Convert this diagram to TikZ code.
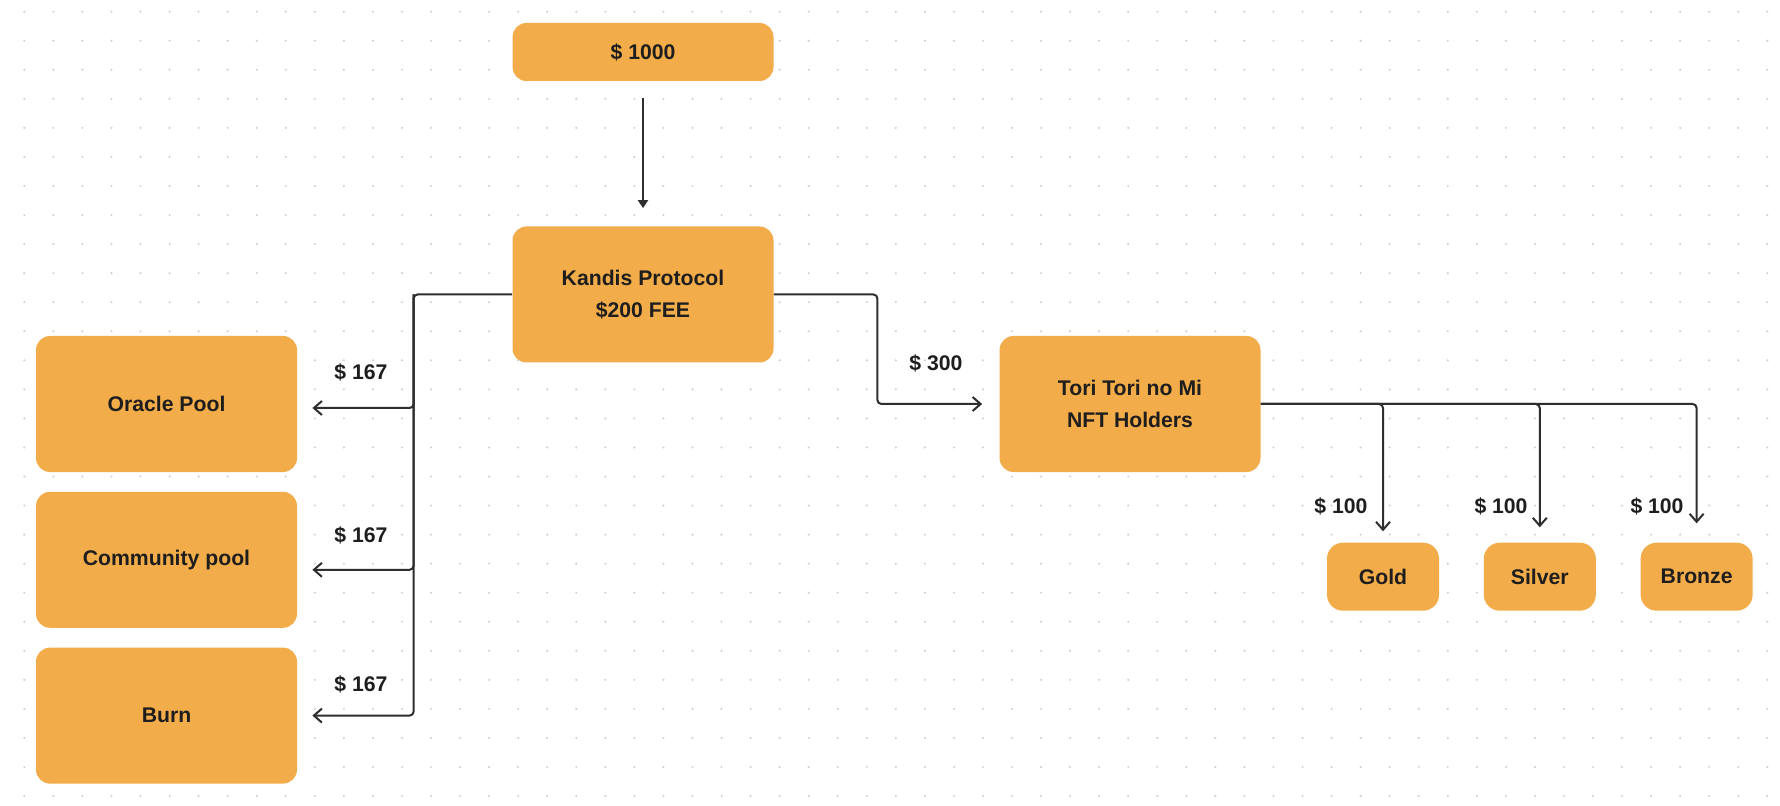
\documentclass[tikz,border=0pt]{standalone}
\usepackage{fontspec}
\setmainfont{Liberation Sans}
\usetikzlibrary{arrows.meta,positioning}
\definecolor{boxfill}{HTML}{F2AC4A}
\definecolor{ink}{HTML}{1E1E1E}
\definecolor{wire}{HTML}{2E2E2E}
\definecolor{griddot}{HTML}{D2D2D2}

\begin{document}
\begin{tikzpicture}[x=0.5pt, y=-0.5pt, node distance=9.5pt,
    font=\fontsize{10.6}{16}\selectfont\bfseries]
  \tikzstyle{card}=[fill=boxfill, rounded corners=7pt, align=center, inner sep=0pt, minimum width=130.5pt, minimum height=68pt, text=ink]
  \tikzstyle{chip}=[card, rounded corners=8pt, minimum width=56pt, minimum height=34pt]
  \tikzstyle{link}=[draw=wire, line width=1pt, rounded corners=2pt, -{Straight Barb[length=4pt,width=7pt]}]
  \tikzstyle{amount}=[inner sep=0pt, text=ink]

  \useasboundingbox[fill=white] (0,0) rectangle (1780,806);
  % dotted canvas
  \foreach \i in {0,...,60}
    \foreach \j in {0,...,27}
      \fill[griddot] (24.3+29.05*\i, 11.7+29.05*\j) circle (0.6pt);

  % boxes
  \node[card, minimum height=29pt] (deposit) at (643,52) {\$ 1000};
  \node[card] (kandis) at (643,294.5) {Kandis Protocol\\\$200 FEE};
  \node[card] (oracle) at (166.5,404) {Oracle Pool};
  \node[card, below=of oracle] (community) {Community pool};
  \node[card, below=of community] (burn) {Burn};
  \node[card] (tori) at (1130,404) {Tori Tori no Mi\\NFT Holders};
  \node[chip] (gold) at (1383,576.7) {Gold};
  \node[chip, right=22pt of gold] (silver) {Silver};
  \node[chip, right=22pt of silver] (bronze) {Bronze};

  \coordinate (split) at ([xshift=-49.25pt]kandis.west);
  \coordinate (hop) at ([xshift=51.75pt]kandis.east);

  % connectors
  \draw[draw=wire, line width=1pt, -{Triangle[length=4pt,width=5pt]}, shorten <=8.5pt, shorten >=9pt] (deposit.south) -- (kandis.north);
  \draw[link, shorten >=7.5pt] (kandis.west) -- (split) |- (burn.east);
  \draw[link, shorten >=7.5pt] (split) |- ([yshift=-2pt]oracle.east);
  \draw[link, shorten >=7.5pt] (split) |- ([yshift=-5pt]community.east);
  \draw[link, shorten >=8.5pt] (kandis.east) -- (hop) |- (tori.west);
  \foreach \tier/\gap in {gold/5.5pt, silver/7.5pt, bronze/9.5pt}
    \draw[link, shorten >=\gap] (tori.east) -| (\tier.north);

  % amounts
  \node[amount] (lbl-oracle) at (361,372) {\$ 167};
  \node[amount] (lbl-community) at (361,535) {\$ 167};
  \node[amount] (lbl-burn) at (361,684) {\$ 167};
  \node[amount] (lbl-tori) at (936,363) {\$ 300};
  \node[amount] (lbl-gold) at (1341,506) {\$ 100};
  \node[amount] (lbl-silver) at (1501,506) {\$ 100};
  \node[amount] (lbl-bronze) at (1657,506) {\$ 100};
\end{tikzpicture}
\end{document}
